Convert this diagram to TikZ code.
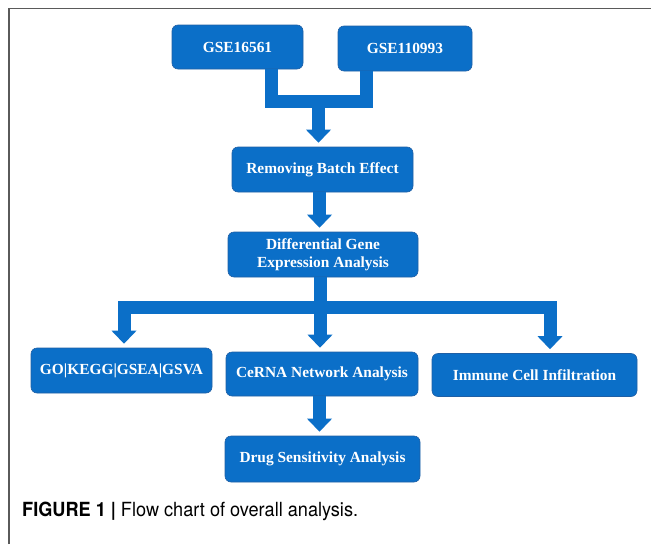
\documentclass[tikz,border=0pt]{standalone}
\usepackage{fontspec}
\usepackage{graphicx}
\usetikzlibrary{calc}
\newfontfamily\boxfontfam{Liberation Serif}
\newfontfamily\capfontfam{TeX Gyre Heros}
\definecolor{boxblue}{HTML}{0B6FC8}
\definecolor{boxedge}{HTML}{1F5FA5}
\definecolor{framegray}{HTML}{5A5A5A}
\tikzset{
  box/.style={draw=boxedge, line width=0.6pt, fill=boxblue, rounded corners=6pt,
    text=white, font=\boxfontfam\bfseries\fontsize{15.4}{18.5}\selectfont,
    align=center, inner sep=0pt},
  flow/.style={draw=boxblue, line width=13pt, line join=miter},
  headfill/.style={fill=boxblue},
}
\newcommand\arrowhead[2]{% #1 = x source coordinate, #2 = target node
  \fill[headfill] let \p1=(#1), \p2=(#2.north) in
    (\x1-12.5pt,\y2+17pt) -- (\x1,\y2+4pt) -- (\x1+12.5pt,\y2+17pt) -- cycle;}
\begin{document}
\begin{tikzpicture}[x=1pt,y=-1pt]
\useasboundingbox (0,0) rectangle (651,544);
% frame
\draw[framegray, line width=1.5pt] (9,544) -- (9,8.5) -- (651,8.5);

% nodes
\node[box, minimum width=131pt, minimum height=44pt] (g1) at (237.5,47) {GSE16561};
\node[box, minimum width=134pt, minimum height=45pt] (g2) at (405,48.5) {GSE110993};
\node[box, minimum width=181pt, minimum height=45pt] (rbe) at (322.5,169.5) {Removing Batch Effect};
\node[box, minimum width=190pt, minimum height=45pt] (dge) at (323,254.5) {Differential Gene\\Expression Analysis};
\node[box, minimum width=181pt, minimum height=45pt] (go) at (121.5,370.5) {GO|KEGG|GSEA|GSVA};
\node[box, minimum width=192pt, minimum height=44pt] (cerna) at (322,374) {CeRNA Network Analysis};
\node[box, minimum width=205pt, minimum height=43pt] (imm) at (534.5,375) {Immune Cell Infiltration};
\node[box, minimum width=195pt, minimum height=46pt] (drug) at (322.5,459) {Drug Sensitivity Analysis};

% bracket merging the two data sets
\coordinate (bl) at ($(g1.south)+(34,0)$);
\coordinate (br) at ($(g2.south)+(-38.5,0)$);
\coordinate (mid1) at (318.5,101);
\draw[flow] (bl) -- (bl |- mid1) -- (br |- mid1) -- (br);
\draw[flow] (mid1) -- ($(rbe.north -| mid1)+(0,-16)$);
\arrowhead{mid1}{rbe}

% rbe -> dge
\coordinate (a2) at ($(rbe.south)+(-3,0)$);
\draw[flow] (a2) -- ($(dge.north -| a2)+(0,-16)$);
\arrowhead{a2}{dge}

% dge -> three branches
\coordinate (sp) at ($(dge.south)+(-3,0)$);
\coordinate (bar) at ($(sp)+(0,30.5)$);
\coordinate (lx) at (124,0);
\coordinate (rx) at (550,0);
\draw[flow] (sp) -- ($(cerna.north -| sp)+(0,-16)$);
\draw[flow] ($(go.north -| lx)+(0,-16)$) -- (bar -| lx) -- (bar -| rx) -- ($(imm.north -| rx)+(0,-16)$);
\arrowhead{bar -| lx}{go}
\arrowhead{sp}{cerna}
\arrowhead{bar -| rx}{imm}

% cerna -> drug
\coordinate (a4) at ($(cerna.south)+(-2.5,0)$);
\draw[flow] (a4) -- ($(drug.north -| a4)+(0,-16)$);
\arrowhead{a4}{drug}

% caption
\node[anchor=base west, inner sep=0pt, font=\capfontfam\fontsize{19.5}{23}\selectfont] (cap) at (22,516)
  {\scalebox{0.93}[1]{\textbf{FIGURE 1 |} Flow chart of overall analysis.}};
\end{tikzpicture}
\end{document}
